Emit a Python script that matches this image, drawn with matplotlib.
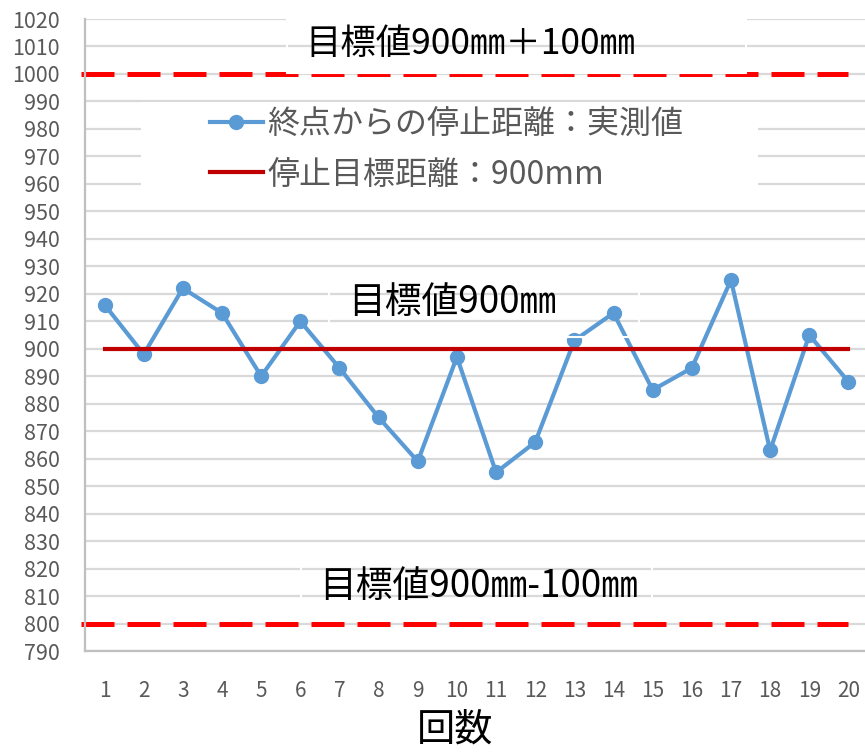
import matplotlib
matplotlib.use('Agg')
import matplotlib.pyplot as plt
from matplotlib.patches import Rectangle

plt.rcParams['font.family'] = ['Noto Sans CJK JP', 'DejaVu Sans']

runs = list(range(1, 21))
stop_dist = [916, 898, 922, 913, 890, 910, 893, 875, 859, 897,
             855, 866, 903, 913, 885, 893, 925, 863, 905, 888]
target = 900
upper = 1000
lower = 800

label_meas = '終点からの停止距離：実測値'
label_target = '停止目標距離：900mm'
note_upper = '目標値900㎜＋100㎜'
note_target = '目標値900㎜'
note_lower = '目標値900㎜-100㎜'
xlabel = '回数'

W, H = 865, 752
fig = plt.figure(figsize=(W / 100, H / 100), dpi=100)
ax = fig.add_axes([85 / W, 101 / H, 783 / W, 632 / H])

ax.set_xlim(0.5, 20.5)
ax.set_ylim(790, 1020)
ax.set_yticks(range(790, 1021, 10))
ax.set_xticks(runs)
ax.grid(axis='y', color='#d9d9d9', linewidth=1.6, zorder=0)
ax.set_axisbelow(True)
for s in ['top', 'right']:
    ax.spines[s].set_visible(False)
for s in ['left', 'bottom']:
    ax.spines[s].set_color('#bfbfbf')
    ax.spines[s].set_linewidth(1.6)
ax.tick_params(length=0, colors='#595959')
ax.tick_params(axis='y', labelsize=15.5, pad=18)
ax.tick_params(axis='x', labelsize=15, pad=21)

# limit lines
for yv in (upper, lower):
    ax.plot([0.4, 20], [yv, yv], color='#ff0000', linewidth=3.6,
            dashes=(6.6, 2.6), clip_on=False, zorder=2)

# white panel behind the legend
ax.add_patch(Rectangle((1.94, 955), 15.76, 34.8, facecolor='white',
                       edgecolor='none', zorder=1))

l1, = ax.plot(runs, stop_dist, color='#5b9bd5', linewidth=3,
              marker='o', markersize=10, zorder=3, label=label_meas)
l2, = ax.plot([1, 20], [target, target], color='#c00000', linewidth=3,
              zorder=4, label=label_target)

leg = ax.legend(handles=[l1, l2], loc='upper left',
                bbox_to_anchor=(210 / W, 1 - 108 / H),
                bbox_transform=fig.transFigure, frameon=False,
                fontsize=23, handlelength=1.65, handletextpad=0.15,
                labelspacing=0.58, borderaxespad=0, borderpad=0)
for t in leg.get_texts():
    t.set_color('#595959')

# notes with thin white frames
ax.text(10.34, 1010.9, note_upper, fontsize=25.5, ha='center', va='center',
        color='black', zorder=6)
ax.text(9.89, 916.9, note_target, fontsize=26.5, ha='center', va='center',
        color='black', zorder=6)
ax.text(10.55, 813.6, note_lower, fontsize=26.5, ha='center', va='center',
        color='black', zorder=6)
for x0, y0, w, h in [(5.67, 1000.5, 11.72, 19.3),
                     (6.72, 904.4, 7.92, 19.5),
                     (6.03, 804.5, 8.96, 19.0)]:
    ax.add_patch(Rectangle((x0, y0), w, h, facecolor='none',
                           edgecolor='white', linewidth=1.5, zorder=5))

fig.text(455 / W, 1 - 730 / H, xlabel, fontsize=27.5, ha='center',
         va='center', color='black')

fig.savefig('out.png', dpi=100)
